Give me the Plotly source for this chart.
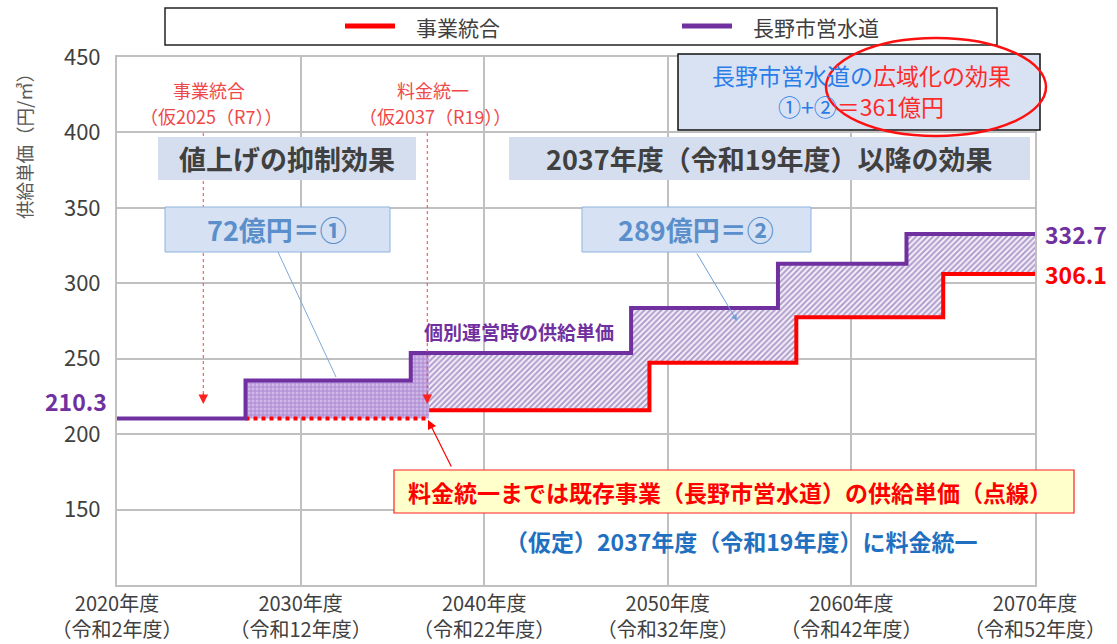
import plotly.graph_objects as go

# ---------------- data ----------------
years_nagano = [2020, 2027, 2036, 2048, 2056, 2063, 2070]
price_nagano = [210.3, 235.5, 253.8, 283.7, 313.0, 332.7, 332.7]

years_integrated = [2037, 2049, 2057, 2065, 2070]
price_integrated = [215.9, 247.3, 277.5, 306.1, 306.1]

years_existing = [2027, 2037]
price_existing = [210.3, 210.3]

x_tick_years = [2020, 2030, 2040, 2050, 2060, 2070]
x_tick_text = ["2020年度<br>（令和2年度）", "2030年度<br>（令和12年度）", "2040年度<br>（令和22年度）",
               "2050年度<br>（令和32年度）", "2060年度<br>（令和42年度）", "2070年度<br>（令和52年度）"]
y_ticks = [150, 200, 250, 300, 350, 400, 450]

event_years = [2024.7, 2036.9]
event_titles = ["事業統合", "料金統一"]
event_notes = ["（仮2025（R7））", "（仮2037（R19））"]

unify_year = 2037

# ---------------- helpers ----------------
W, H = 1117, 644
L, R, T, B = 117, 1035, 57, 585
FONT = "Noto Sans CJK JP"
PURPLE = "#7030a0"
RED = "#ff0000"


def px(x):
    return (x - L) / (R - L)


def py(y):
    return (B - y) / (B - T)


def step_value(xs, ys, x):
    v = ys[0]
    for xi, yi in zip(xs, ys):
        if xi <= x:
            v = yi
    return v


# split the Nagano series at the unification year
top_a_x = [x for x in years_nagano if years_existing[0] <= x < unify_year] + [unify_year]
top_a_y = [step_value(years_nagano, price_nagano, x) for x in top_a_x]
top_b_x = [unify_year] + [x for x in years_nagano if x > unify_year]
top_b_y = [step_value(years_nagano, price_nagano, x) for x in top_b_x]

fig = go.Figure()

# hatched region before unification (crosshatch)
fig.add_trace(go.Scatter(x=years_existing, y=price_existing, mode="lines", line=dict(width=0, shape="hv"),
                         showlegend=False, hoverinfo="skip"))
fig.add_trace(go.Scatter(x=top_a_x, y=top_a_y, mode="lines", line=dict(width=0, shape="hv"),
                         fill="tonexty", fillcolor="rgba(0,0,0,0)",
                         fillpattern=dict(shape="+", fgcolor="#8a5cc0", bgcolor="#cfb8e6", size=4, solidity=0.45),
                         showlegend=False, hoverinfo="skip"))
# hatched region after unification (diagonal)
fig.add_trace(go.Scatter(x=years_integrated, y=price_integrated, mode="lines", line=dict(width=0, shape="hv"),
                         showlegend=False, hoverinfo="skip"))
fig.add_trace(go.Scatter(x=top_b_x, y=top_b_y, mode="lines", line=dict(width=0, shape="hv"),
                         fill="tonexty", fillcolor="rgba(0,0,0,0)",
                         fillpattern=dict(shape="/", fgcolor="#6a4a9c", bgcolor="#f4f0fa", size=4, solidity=0.5),
                         showlegend=False, hoverinfo="skip"))

# existing-rate dotted line
fig.add_trace(go.Scatter(x=years_existing, y=price_existing, mode="lines",
                         line=dict(color=RED, width=4, dash="dot", shape="hv"),
                         showlegend=False, hoverinfo="skip"))
# main lines
fig.add_trace(go.Scatter(x=years_integrated, y=price_integrated, mode="lines", name="事業統合",
                         line=dict(color=RED, width=4, shape="hv"), showlegend=False))
fig.add_trace(go.Scatter(x=years_nagano, y=price_nagano, mode="lines", name="長野市営水道",
                         line=dict(color=PURPLE, width=4, shape="hv"), showlegend=False))

shapes = []
annotations = []


def text(t, x, y, size, color, xanchor="center", yanchor="middle", yref="paper", xref="paper", **kw):
    d = dict(text=t, xref=xref, yref=yref, x=x, y=y, xanchor=xanchor, yanchor=yanchor,
             showarrow=False, font=dict(family=FONT, size=size, color=color))
    d.update(kw)
    annotations.append(d)


# legend (drawn manually)
shapes.append(dict(type="rect", xref="paper", yref="paper", x0=px(165), x1=px(997), y0=py(45), y1=py(8),
                   line=dict(color="#222222", width=1.5), fillcolor="rgba(0,0,0,0)", layer="above"))
for name, color, lx in [("事業統合", RED, 345), ("長野市営水道", PURPLE, 682)]:
    shapes.append(dict(type="line", xref="paper", yref="paper", x0=px(lx), x1=px(lx + 50), y0=py(26), y1=py(26),
                       line=dict(color=color, width=5), layer="above"))
    text(name, px(lx + 69), py(27), 21, "#404040", xanchor="left")

# y axis title
text("供給単価（円/㎥）", px(24), py(142), 18.5, "#595959", textangle=-90)

# event vertical dotted lines with arrows + labels
for ex, t1, t2 in zip(event_years, event_titles, event_notes):
    shapes.append(dict(type="line", xref="x", yref="paper", x0=ex, x1=ex, y0=py(133), y1=py(398),
                       line=dict(color="#ff4040", width=1, dash="dot"), layer="above"))
    annotations.append(dict(text="", xref="x", yref="paper", x=ex, y=py(404), ax=0, ay=-12,
                            showarrow=True, arrowhead=2, arrowsize=1.6, arrowwidth=1.2, arrowcolor="#ff2020"))
    text(t1, ex + 0.3, py(90), 18, "#f04848", xref="x")
    text(t2, ex + 0.4, py(116), 18, "#f04848", xref="x")


# boxes
def box(x0, x1, y0, y1, fill, line_color=None, line_width=0):
    shapes.append(dict(type="rect", xref="paper", yref="paper", x0=px(x0), x1=px(x1), y0=py(y1), y1=py(y0),
                       fillcolor=fill, line=dict(color=line_color or fill, width=line_width), layer="above"))


box(158, 416, 137, 180, "#d5deee")
text("<b>値上げの抑制効果</b>", px(287), py(158), 27, "#404040")
box(509, 1030, 137, 180, "#d5deee")
text("<b>2037年度（令和19年度）以降の効果</b>", px(769), py(158), 27, "#404040")

# top-right summary box
box(678, 1040, 54, 130, "#d9e2f3", "#111111", 1.5)
text("<span style='color:#2a7de8'>長野市営水道の</span><span style='color:#ff2a2a'>広域化の効果</span>",
     px(861), py(75), 23, "#2a7de8")
text("<span style='color:#2a7de8'>①+②</span><span style='color:#ff2a2a'>＝361億円</span>",
     px(861), py(106), 23, "#2a7de8")
shapes.append(dict(type="circle", xref="paper", yref="paper", x0=px(826), x1=px(1046), y0=py(136), y1=py(38),
                   line=dict(color="#ff1010", width=2.5), layer="above"))

# amount boxes
box(165, 390, 207, 252, "#d6e2f3", "#8fb3de", 1)
text("<b>72億円＝①</b>", px(277), py(229), 27, "#5b8fcc")
box(582, 811, 207, 252, "#d6e2f3", "#8fb3de", 1)
text("<b>289億円＝②</b>", px(696), py(229), 27, "#5b8fcc")

# leader lines
shapes.append(dict(type="line", xref="paper", yref="paper", x0=px(278), y0=py(252), x1=px(336), y1=py(377),
                   line=dict(color="#7fa8d8", width=1), layer="above"))
annotations.append(dict(text="", xref="paper", yref="paper", x=px(737), y=py(321), ax=-41, ay=-69,
                        showarrow=True, arrowhead=2, arrowsize=1.2, arrowwidth=1, arrowcolor="#6f9fd8", standoff=0))

# series label inside chart
text("<b>個別運営時の供給単価</b>", px(422), py(332), 19, PURPLE, xanchor="left")

# value labels
text("<b>%.1f</b>" % price_nagano[0], px(109), price_nagano[0] + 12, 23, PURPLE, xanchor="right", yref="y")
text("<b>%.1f</b>" % price_nagano[-1], px(1043), price_nagano[-1], 23, PURPLE, xanchor="left", yref="y")
text("<b>%.1f</b>" % price_integrated[-1], px(1043), price_integrated[-1], 23, RED, xanchor="left", yref="y")

# yellow note box + arrow
box(394, 1074, 470, 513, "#ffffcc", "#ff2020", 1.2)
text("<b>料金統一までは既存事業（長野市営水道）の供給単価（点線）</b>", px(730), py(492), 23, RED)
annotations.append(dict(text="", xref="paper", yref="paper", x=px(428), y=py(420), ax=24, ay=48,
                        showarrow=True, arrowhead=2, arrowsize=1.5, arrowwidth=1.2, arrowcolor=RED, standoff=0))

text("<b>（仮定）2037年度（令和19年度）に料金統一</b>", px(741), py(541), 23, "#1f70c1")

fig.update_layout(
    width=W, height=H,
    margin=dict(l=L, r=W - R, t=T, b=H - B, autoexpand=False),
    paper_bgcolor="white", plot_bgcolor="white",
    font=dict(family=FONT, color="#404040"),
    shapes=shapes, annotations=annotations,
    showlegend=False,
)
fig.update_xaxes(range=[2020, 2070], tickvals=x_tick_years, ticktext=x_tick_text, automargin=False,
                 showgrid=True, gridcolor="#c0c0c0", gridwidth=1.5,
                 showline=True, linecolor="#c0c0c0", linewidth=2, mirror=True, zeroline=False,
                 tickfont=dict(family=FONT, size=20, color="#404040"), ticks="", ticklabelstandoff=0)
fig.update_yaxes(range=[100, 450], tickvals=y_ticks, automargin=False,
                 showgrid=True, gridcolor="#c0c0c0", gridwidth=1.5,
                 showline=True, linecolor="#c0c0c0", linewidth=2, mirror=True, zeroline=False,
                 tickfont=dict(family=FONT, size=22, color="#404040"), ticks="", ticklabelstandoff=10)

fig.write_html("out.html", config={"displayModeBar": False},
               post_script="document.body.style.margin='0px';")
